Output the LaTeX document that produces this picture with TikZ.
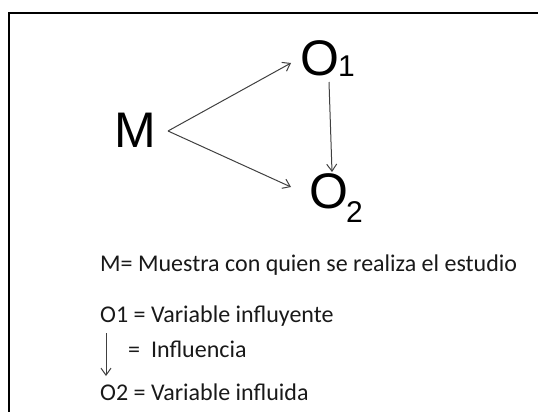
\documentclass[tikz,border=0pt]{standalone}
\usepackage{fontspec}
\setmainfont{Carlito}
\newfontfamily\arialf{Liberation Sans}
\usetikzlibrary{arrows.meta}
\begin{document}
\begin{tikzpicture}[x=1pt,y=-1pt,
  arr/.style={draw=black!75,line width=1pt,-{Straight Barb[length=7pt,width=10pt]}},
  big/.style={font=\arialf\fontsize{50}{50}\selectfont,inner sep=0pt,anchor=base west},
  sub/.style={font=\arialf\fontsize{30}{30}\selectfont,inner sep=0pt,anchor=base west},
  txt/.style={font=\fontsize{24}{26}\selectfont,inner sep=0pt,anchor=base west,text=black!90}]
\useasboundingbox (0,0) rectangle (538,412);
\draw[line width=2.2pt] (9,420) -- (9,13) -- (545,13);
% diagram
\node[big] (M) at (114,147) {M};
\node[big] (O1) at (300,75) {O};
\node[sub] (s1) at (338,77) {1};
\node[big] (O2) at (309,208) {O};
\node[sub] (s2) at (346,222) {2};
\coordinate (mstart) at (168,131);
\draw[arr] (mstart) -- ([xshift=-9pt]O1.west |- 0,63);
\draw[arr] (mstart) -- ([xshift=-18pt]O2.west |- 0,187);
\draw[arr] (329,82) -- (332,172);
% legend
\node[txt] (t1) at (100,271) {M= Muestra con quien se realiza el estudio};
\node[txt] (t2) at (100,322) {O1 = Variable influyente};
\node[txt] (t3) at (128,357) {=\ \ Influencia};
\node[txt] (t4) at (100,400) {O2 = Variable influida};
\draw[arr] (106,333) -- (106,376);
\end{tikzpicture}
\end{document}
